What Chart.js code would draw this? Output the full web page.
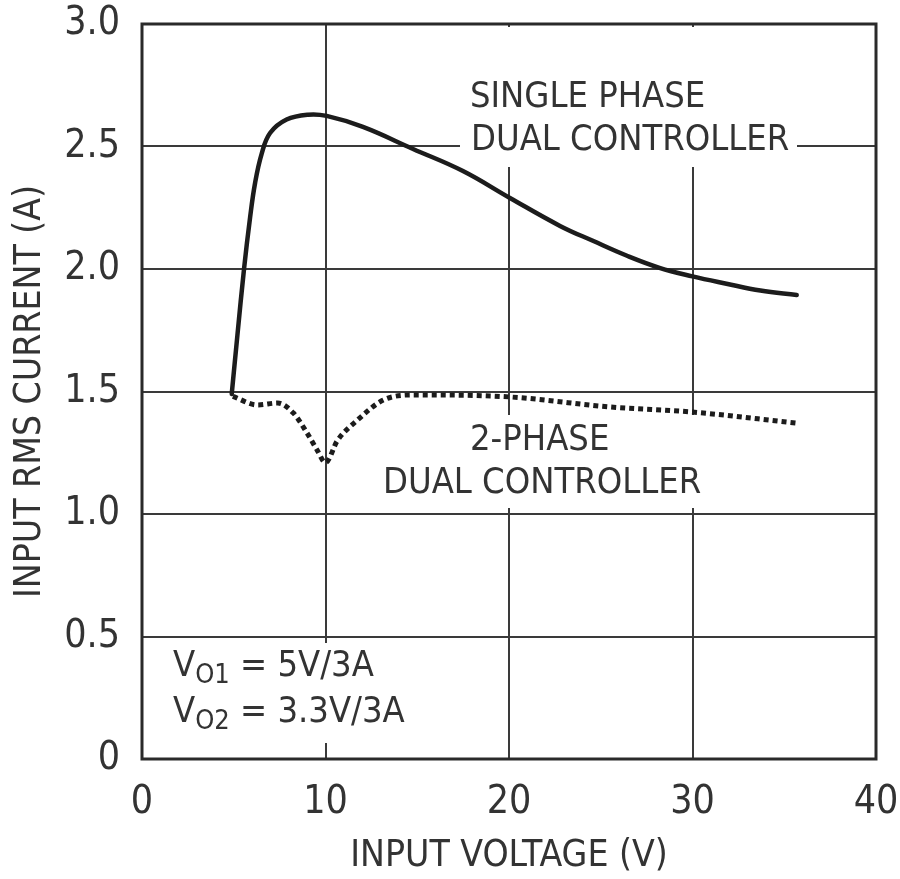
<!DOCTYPE html>
<html>
<head>
<meta charset="utf-8">
<script src="https://cdn.jsdelivr.net/npm/chart.js@4/dist/chart.umd.min.js"></script>
<style>
  html, body { margin: 0; padding: 0; background: #fff; }
  #wrap { width: 900px; height: 879px; }
</style>
</head>
<body>
<div id="wrap"><canvas id="rms-chart"></canvas></div>
<script>
// values (volts, amps)
const singleVolts = [4.89, 5.2, 5.56, 5.89, 6.16, 6.52, 6.98, 7.88, 9.05, 10.06, 12.04, 14.77, 17.49, 20.05, 22.78, 24.6, 26.4, 28.2, 30.0, 31.85, 33.7, 35.68];
const singleAmps  = [1.49, 1.73, 2.0, 2.21, 2.35, 2.47, 2.555, 2.61, 2.63, 2.625, 2.58, 2.49, 2.4, 2.29, 2.176, 2.114, 2.055, 2.005, 1.97, 1.94, 1.912, 1.894];

const twoPhaseVolts = [4.95, 6.3, 7.4, 8.25, 9.0, 9.55, 10.0, 10.65, 11.75, 13.15, 14.8, 20.0, 25.5, 30.0, 35.65];
const twoPhaseAmps  = [1.48, 1.445, 1.453, 1.412, 1.33, 1.26, 1.21, 1.3, 1.384, 1.465, 1.486, 1.478, 1.437, 1.416, 1.371];

const xTicks = [0, 10, 20, 30, 40];
const yTicks = [0, 0.5, 1.0, 1.5, 2.0, 2.5, 3.0];

const FONT = "'Liberation Sans Narrow', 'DejaVu Sans Condensed', 'Liberation Sans', sans-serif";
const INK = '#1c1c1c';
const TEXT = '#333';
const GRID = '#3a3a3a';

function toPoints(xs, ys) {
  return xs.map((v, i) => ({ x: v, y: ys[i] }));
}

// white boxes + labels sit on top of the grid, under the curves
const labelPlugin = {
  id: 'labels',
  beforeDatasetsDraw(chart) {
    const ctx = chart.ctx;
    ctx.save();
    ctx.fillStyle = '#fff';
    ctx.fillRect(460, 27, 337, 140);
    ctx.fillRect(380, 415, 320, 93);
    ctx.fillRect(165, 643, 240, 100);

    ctx.fillStyle = TEXT;
    ctx.textBaseline = 'middle';
    ctx.textAlign = 'left';
    ctx.font = '36px ' + FONT;
    ctx.fillText('SINGLE PHASE', 470, 98);
    ctx.fillText('DUAL CONTROLLER', 471, 141);
    ctx.fillText('2-PHASE', 470, 441);
    ctx.fillText('DUAL CONTROLLER', 383, 484);

    // V_O1 / V_O2 note
    const rows = [['O1', ' = 5V/3A', 667], ['O2', ' = 3.3V/3A', 713]];
    rows.forEach(r => {
      let x = 173;
      ctx.font = '36px ' + FONT;
      ctx.fillText('V', x, r[2]);
      x += ctx.measureText('V').width;
      ctx.font = '27px ' + FONT;
      ctx.fillText(r[0], x, r[2] + 9);
      x += ctx.measureText(r[0]).width;
      ctx.font = '36px ' + FONT;
      ctx.fillText(r[1], x, r[2]);
    });
    ctx.restore();
  },
  afterDraw(chart) {
    const a = chart.chartArea;
    const ctx = chart.ctx;
    ctx.save();
    ctx.strokeStyle = '#2a2a2a';
    ctx.lineWidth = 3;
    ctx.strokeRect(a.left, a.top, a.right - a.left, a.bottom - a.top);
    ctx.restore();
  }
};

const config = {
  type: 'line',
  data: {
    datasets: [{
      label: 'Single phase dual controller',
      data: toPoints(singleVolts, singleAmps),
      borderColor: INK,
      borderWidth: 4.5,
      pointRadius: 0,
      tension: 0.4,
      borderCapStyle: 'round'
    }, {
      label: '2-phase dual controller',
      data: toPoints(twoPhaseVolts, twoPhaseAmps),
      borderColor: INK,
      borderWidth: 5,
      borderDash: [5, 4],
      pointRadius: 0,
      cubicInterpolationMode: 'monotone'
    }]
  },
  options: {
    responsive: true,
    maintainAspectRatio: false,
    animation: false,
    layout: { padding: { top: 24, right: 24, left: 0, bottom: 0 } },
    plugins: {
      legend: { display: false },
      tooltip: { enabled: false }
    },
    scales: {
      x: {
        type: 'linear',
        min: 0,
        max: 40,
        afterBuildTicks: (scale) => { scale.ticks = xTicks.map(v => ({ value: v })); },
        afterFit: (scale) => { scale.height = 120; },
        grid: { color: GRID, lineWidth: 2, drawTicks: true, tickLength: 20, tickColor: 'rgba(0,0,0,0)' },
        border: { display: false },
        ticks: {
          color: TEXT,
          padding: 0,
          font: { family: FONT, size: 39 },
          maxRotation: 0
        },
        title: {
          display: true,
          text: 'INPUT VOLTAGE (V)',
          color: TEXT,
          font: { family: FONT, size: 37 },
          padding: { top: 14, bottom: 0 }
        }
      },
      y: {
        min: 0,
        max: 3,
        afterBuildTicks: (scale) => { scale.ticks = yTicks.map(v => ({ value: v })); },
        afterFit: (scale) => { scale.width = 142; },
        grid: { color: GRID, lineWidth: 2, drawTicks: true, tickLength: 22, tickColor: 'rgba(0,0,0,0)' },
        border: { display: false },
        ticks: {
          color: TEXT,
          padding: 0,
          font: { family: FONT, size: 39 },
          callback: (v) => v === 0 ? '0' : v.toFixed(1)
        },
        title: {
          display: true,
          text: 'INPUT RMS CURRENT (A)',
          color: TEXT,
          font: { family: FONT, size: 37 },
          padding: { top: 8, bottom: 0 }
        }
      }
    }
  },
  plugins: [labelPlugin]
};

const rmsChart = new Chart(document.getElementById('rms-chart'), config);
</script>
</body>
</html>
